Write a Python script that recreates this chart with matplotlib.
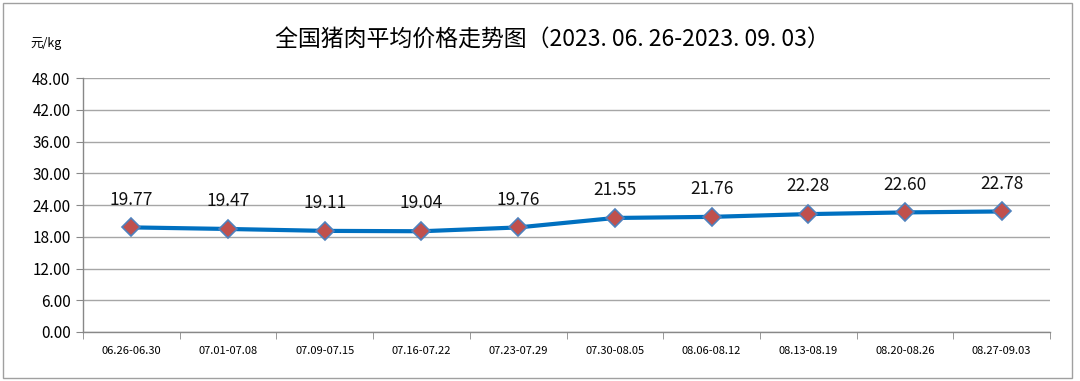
import matplotlib
matplotlib.use('Agg')
import matplotlib.pyplot as plt
from matplotlib.patches import Rectangle

plt.rcParams['font.family'] = ['Noto Sans CJK SC', 'DejaVu Sans']

# weekly national average pork price
weeks = ['06.26-06.30', '07.01-07.08', '07.09-07.15', '07.16-07.22', '07.23-07.29',
         '07.30-08.05', '08.06-08.12', '08.13-08.19', '08.20-08.26', '08.27-09.03']
prices = [19.77, 19.47, 19.11, 19.04, 19.76, 21.55, 21.76, 22.28, 22.60, 22.78]
y_ticks = [0, 6, 12, 18, 24, 30, 36, 42, 48]

fig = plt.figure(figsize=(10.8, 3.81), dpi=100)
ax = fig.add_axes([83 / 1080, 1 - 332 / 381, 967 / 1080, 254 / 381])

x = list(range(len(weeks)))
ax.plot(x, prices, color='#0070C0', linewidth=3, zorder=3)
ax.plot(x, prices, linestyle='none', marker='D', markersize=9,
        markerfacecolor='#C0504D', markeredgecolor='#4F81BD', markeredgewidth=1.2, zorder=4)

for xi, p in zip(x, prices):
    ax.annotate(f'{p:.2f}', (xi, p), xytext=(0, 20), textcoords='offset points',
                ha='center', va='center', fontsize=12.5, color='#111111')

ax.set_xlim(-0.5, len(weeks) - 0.5)
ax.set_ylim(0, 48)
ax.set_yticks(y_ticks)
ax.set_yticklabels([f'{v:.2f}' for v in y_ticks], fontsize=11)
ax.set_xticks(x)
ax.set_xticklabels(weeks, fontsize=8)
ax.tick_params(axis='x', length=0, pad=10)
ax.set_xticks([i - 0.5 for i in range(len(weeks) + 1)], minor=True)
ax.tick_params(axis='x', which='minor', length=5, color='#888888', direction='out')
ax.tick_params(axis='y', length=5, color='#888888', direction='out', pad=4)

ax.grid(axis='y', color='#A6A6A6', linewidth=1)
ax.set_axisbelow(True)
for s in ['top', 'right']:
    ax.spines[s].set_visible(False)
for s in ['left', 'bottom']:
    ax.spines[s].set_color('#888888')
    ax.spines[s].set_linewidth(1)

fig.text(552 / 1080, 1 - 40 / 381, '全国猪肉平均价格走势图（2023. 06. 26-2023. 09. 03）',
         ha='center', va='center', fontsize=16.5)
fig.text(30 / 1080, 1 - 43 / 381, '元/kg', ha='left', va='center', fontsize=9)

fig.patches.append(Rectangle((3 / 1080, 3 / 381), 1069 / 1080, 375 / 381,
                             transform=fig.transFigure, fill=False,
                             edgecolor='#A0A0A0', linewidth=1))

fig.savefig('out.png', dpi=100)
